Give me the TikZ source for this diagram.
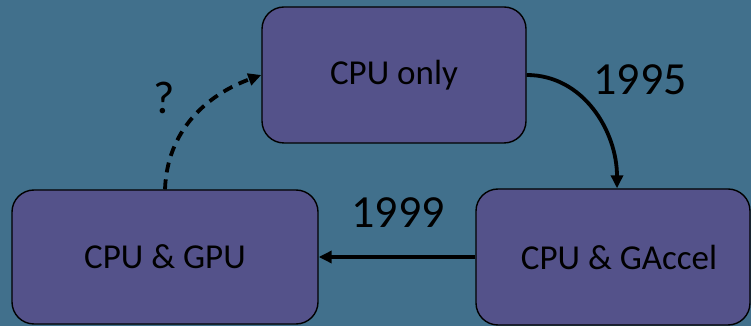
\documentclass[tikz,border=0pt]{standalone}
\usepackage{fontspec}
\setmainfont{Carlito}
\usetikzlibrary{arrows.meta}
\definecolor{bgc}{RGB}{65,112,140}
\definecolor{boxc}{RGB}{84,82,138}
\tikzset{
  box/.style={draw=black, line width=1.4pt, fill=boxc, rounded corners=22pt, inner sep=0pt,
    font=\fontsize{35}{42}\selectfont},
  lbl/.style={font=\fontsize{46}{54}\selectfont, inner sep=0pt},
  conn/.style={line width=3.8pt, -{Triangle[length=13pt,width=12pt]}},
}
\begin{document}
\begin{tikzpicture}[x=1pt,y=1pt]
\fill[bgc] (0,0) rectangle (751,326);
\useasboundingbox (0,0) rectangle (751,326);
\node[box, minimum width=264pt, minimum height=136pt] (top) at (394,251) {CPU only};
\node[box, minimum width=306pt, minimum height=134pt] (lb) at (165,69) {CPU \& GPU};
\node[box, minimum width=274pt, minimum height=136pt] (rb) at (613,69) {\hspace*{12pt}CPU \& GAccel};
\draw[conn] (top.east) to[out=0,in=90] ([xshift=4pt]rb.north);
\draw[conn] (rb.west) -- (lb.east);
\draw[conn, dash pattern=on 10pt off 7pt] (lb.north) to[out=88,in=200] (top.west);
\node[lbl] (l95) at (640,246) {1995};
\node[lbl] (l99) at (398,113) {1999};
\node[lbl] (lq) at (164,228) {?};
\end{tikzpicture}
\end{document}
